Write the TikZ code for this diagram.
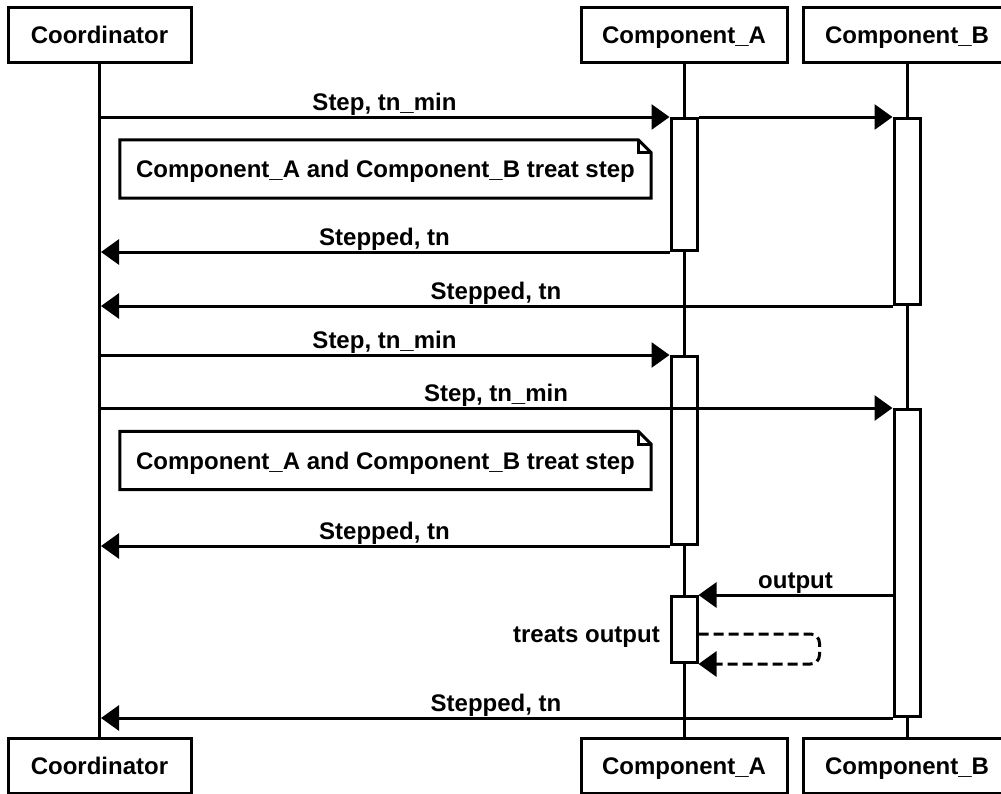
\documentclass[tikz,border=0pt]{standalone}
\usepackage{fontspec}
\setmainfont{Liberation Sans}
\usetikzlibrary{arrows.meta}
\begin{document}
\begin{tikzpicture}[x=1pt,y=-1pt,
  every node/.style={font=\fontsize{24}{28}\selectfont\bfseries},
  part/.style={draw, line width=3pt, fill=white, minimum height=55pt, inner sep=0pt, text height=17pt, text depth=0pt},
  life/.style={line width=3pt},
  act/.style={draw, line width=3pt, fill=white, minimum width=26pt, inner sep=0pt, anchor=north},
  msg/.style={line width=3pt, -{Triangle[length=18pt,width=25pt]}},
  lbl/.style={anchor=base, yshift=7pt, inner sep=0pt},
  notebox/.style={minimum width=531pt, minimum height=58pt, inner sep=0pt, text height=17pt, text depth=0pt},
  noteline/.style={line width=3pt, line join=miter},
]
\useasboundingbox (0,0) rectangle (1001,793);

% participants
\node[part, minimum width=183pt] (cT) at (99.5,34.5) {Coordinator};
\node[part, minimum width=206pt] (aT) at (684,34.5) {Component\_A};
\node[part, minimum width=208pt] (bT) at (907,34.5) {Component\_B};
\node[part, minimum width=183pt] (cB) at (99.5,766) {Coordinator};
\node[part, minimum width=206pt] (aB) at (684,766) {Component\_A};
\node[part, minimum width=208pt] (bB) at (907,766) {Component\_B};

% lifelines
\draw[life] (cT.south) -- (cB.north);
\draw[life] (aT.south) -- (aB.north);
\draw[life] (bT.south) -- (bB.north);

% activations
\node[act, minimum height=132pt] (a1) at (684,117) {};
\node[act, minimum height=186pt] (b1) at (907,117) {};
\node[act, minimum height=188pt] (a2) at (684,355) {};
\node[act, minimum height=307pt] (b2) at (907,408) {};
\node[act, minimum height=66pt]  (a3) at (684,595) {};

% notes
\node[notebox] (n1) at (385.5,169) {Component\_A and Component\_B treat step};
\draw[noteline] (n1.north west) -- ([xshift=-13pt]n1.north east) -- ([yshift=-13pt]n1.north east) -- (n1.south east) -- (n1.south west) -- cycle;
\draw[noteline] ([xshift=-13pt]n1.north east) -- ([xshift=-13pt,yshift=-13pt]n1.north east) -- ([yshift=-13pt]n1.north east);
\node[notebox] (n2) at (385.5,460.5) {Component\_A and Component\_B treat step};
\draw[noteline] (n2.north west) -- ([xshift=-13pt]n2.north east) -- ([yshift=-13pt]n2.north east) -- (n2.south east) -- (n2.south west) -- cycle;
\draw[noteline] ([xshift=-13pt]n2.north east) -- ([xshift=-13pt,yshift=-13pt]n2.north east) -- ([yshift=-13pt]n2.north east);

% messages
\draw[msg] (a1.north west -| cT.south) -- node[lbl] {Step, tn\_min} (a1.north west);
\draw[msg] (a1.north east) -- (b1.north west);
\draw[msg, shorten >=1.5pt] (a1.south west) -- node[lbl] {Stepped, tn} (a1.south west -| cT.south);
\draw[msg, shorten >=1.5pt] (b1.south west) -- node[lbl] {Stepped, tn} (b1.south west -| cT.south);
\draw[msg] (a2.north west -| cT.south) -- node[lbl] {Step, tn\_min} (a2.north west);
\draw[msg] (b2.north west -| cT.south) -- node[lbl] {Step, tn\_min} (b2.north west);
\draw[msg, shorten >=1.5pt] (a2.south west) -- node[lbl] {Stepped, tn} (a2.south west -| cT.south);
\draw[msg] (a3.north east -| b2.west) -- node[lbl] {output} (a3.north east);
\node[anchor=base east, inner sep=0pt] (tl) at (660,642) {treats output};
\draw[msg, dashed, dash pattern=on 10pt off 5pt, rounded corners=9pt] ([yshift=30pt]a3.south east) -- ++(121,0) |- (a3.south east);
\draw[msg, shorten >=1.5pt] (b2.south west) -- node[lbl] {Stepped, tn} (b2.south west -| cT.south);
\end{tikzpicture}
\end{document}
